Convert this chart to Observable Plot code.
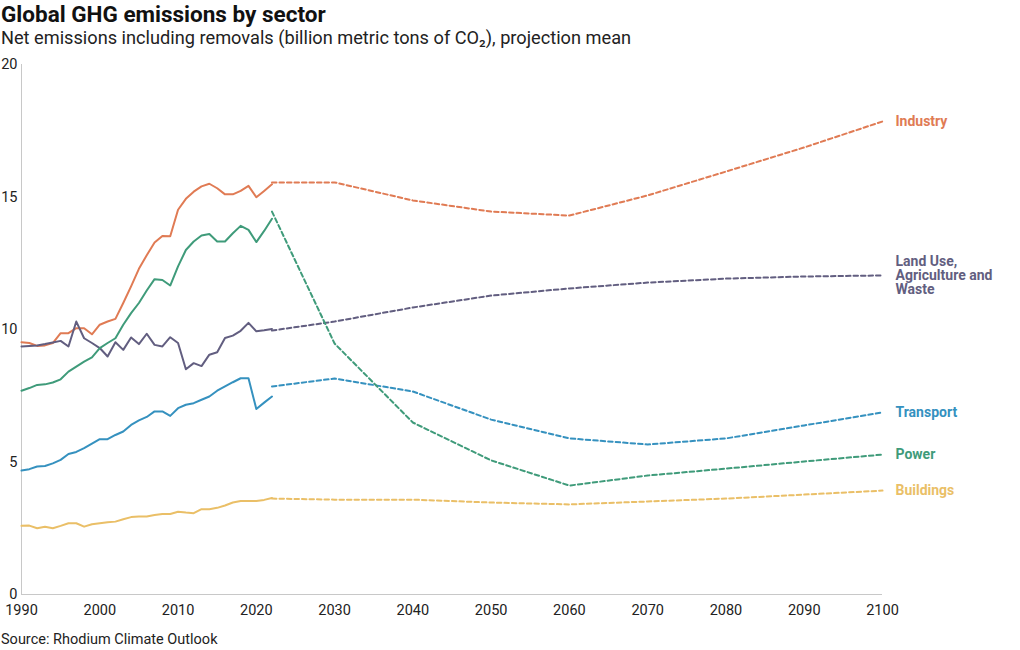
<!DOCTYPE html>
<html>
<head>
<meta charset="utf-8">
<script src="https://cdn.jsdelivr.net/npm/d3@7"></script>
<script src="https://cdn.jsdelivr.net/npm/@observablehq/plot@0.6"></script>
<style>
  body { margin: 0; background: #fff; font-family: Roboto, "Noto Sans", sans-serif; color: #111; }
  #wrap { width: 1020px; }
  .title { font-size: 22.5px; font-weight: 700; line-height: 26px; padding-top: 1px; margin: 0 0 0 1px; color: #111; }
  .subtitle { font-size: 18.2px; line-height: 22px; margin: 0 0 0 1px; color: #222; }
  .caption { font-size: 14.5px; line-height: 20px; margin: 6px 0 0 1px; color: #222; }
</style>
</head>
<body>
<div id="wrap">
  <div class="title">Global GHG emissions by sector</div>
  <div class="subtitle">Net emissions including removals (billion metric tons of CO₂), projection mean</div>
  <div id="chart"></div>
  <div class="caption">Source: Rhodium Climate Outlook</div>
</div>
<script>
const sectors = ["Industry", "Land Use, Agriculture and Waste", "Transport", "Power", "Buildings"];
const sectorLabels = ["Industry", "Land Use,\nAgriculture and\nWaste", "Transport", "Power", "Buildings"];
const sectorColors = ["#e07b54", "#625e80", "#3591bf", "#3f9b7a", "#eabf67"];

const histYears = [1990,1991,1992,1993,1994,1995,1996,1997,1998,1999,
  2000,2001,2002,2003,2004,2005,2006,2007,2008,2009,
  2010,2011,2012,2013,2014,2015,2016,2017,2018,2019,
  2020,2021,2022];

const industryHist = [9.52,9.49,9.38,9.40,9.49,9.86,9.86,10.05,10.05,9.82,
  10.18,10.30,10.40,11.0,11.63,12.29,12.8,13.28,13.53,13.52,
  14.52,14.93,15.2,15.4,15.5,15.33,15.1,15.1,15.23,15.42,
  14.99,15.23,15.48];
const landHist = [9.36,9.38,9.40,9.45,9.51,9.57,9.36,10.3,9.67,9.49,
  9.3,8.98,9.52,9.23,9.7,9.45,9.84,9.42,9.36,9.71,
  9.49,8.5,8.73,8.62,9.05,9.14,9.68,9.77,9.95,10.25,
  9.93,9.97,10.02];
const transportHist = [4.68,4.73,4.83,4.85,4.95,5.08,5.3,5.38,5.52,5.69,
  5.86,5.86,6.02,6.15,6.4,6.57,6.7,6.91,6.91,6.74,
  7.03,7.16,7.22,7.35,7.47,7.69,7.85,8.01,8.16,8.16,
  7.0,7.24,7.47];
const powerHist = [7.69,7.79,7.91,7.93,8.0,8.12,8.41,8.6,8.79,8.95,
  9.3,9.49,9.67,10.18,10.62,11.0,11.47,11.9,11.87,11.66,
  12.38,13.0,13.32,13.55,13.6,13.32,13.32,13.63,13.91,13.76,
  13.3,13.72,14.18];
const buildingsHist = [2.59,2.6,2.5,2.56,2.5,2.59,2.69,2.69,2.56,2.65,
  2.69,2.73,2.75,2.84,2.92,2.94,2.94,3.0,3.04,3.04,
  3.12,3.09,3.07,3.22,3.22,3.27,3.36,3.47,3.53,3.53,
  3.53,3.57,3.64];

const projYears = [2022,2030,2040,2050,2060,2070,2080,2090,2100];
const industryProj = [15.55,15.55,14.87,14.45,14.3,15.06,15.96,16.87,17.85];
const landProj = [9.96,10.3,10.83,11.28,11.55,11.77,11.92,12.0,12.04];
const transportProj = [7.85,8.15,7.66,6.6,5.89,5.66,5.89,6.38,6.87];
const powerProj = [14.45,9.47,6.49,5.06,4.11,4.49,4.75,5.02,5.28];
const buildingsProj = [3.62,3.58,3.58,3.47,3.4,3.51,3.62,3.77,3.92];

const xTicks = [1990,2000,2010,2020,2030,2040,2050,2060,2070,2080,2090,2100];
const yTicks = [0,5,10,15,20];

const histSeries = [industryHist, landHist, transportHist, powerHist, buildingsHist];
const projSeries = [industryProj, landProj, transportProj, powerProj, buildingsProj];

const hist = [];
const proj = [];
const ends = [];
sectors.forEach((s, i) => {
  histYears.forEach((yr, j) => hist.push({sector: s, year: yr, value: histSeries[i][j]}));
  projYears.forEach((yr, j) => proj.push({sector: s, year: yr, value: projSeries[i][j]}));
  ends.push({sector: s, label: sectorLabels[i], year: projYears[projYears.length - 1], value: projSeries[i][projSeries[i].length - 1]});
});

const chart = Plot.plot({
  width: 1020,
  height: 575,
  marginTop: 15,
  marginBottom: 30,
  marginLeft: 21,
  marginRight: 138,
  style: {fontFamily: "Roboto, 'Noto Sans', sans-serif", fontSize: "14.5px", color: "#222", background: "#fff", overflow: "visible"},
  x: {domain: [1990, 2100], ticks: xTicks, tickFormat: d => String(d), tickSize: 0, tickPadding: 10, label: null},
  y: {domain: [0, 20], ticks: yTicks, tickSize: 0, tickPadding: 4, label: null},
  color: {domain: sectors, range: sectorColors},
  marks: [
    Plot.ruleX([1990], {stroke: "#c8c8c8", strokeWidth: 1}),
    Plot.ruleY([0], {stroke: "#c8c8c8", strokeWidth: 1}),
    Plot.line(hist, {x: "year", y: "value", z: "sector", stroke: "sector", strokeWidth: 2}),
    Plot.line(proj, {x: "year", y: "value", z: "sector", stroke: "sector", strokeWidth: 2, strokeDasharray: "4.5,3"}),
    Plot.text(ends, {x: "year", y: "value", text: "label", fill: "sector", dx: 13, textAnchor: "start", fontWeight: 700, fontSize: 14, lineHeight: 0.98})
  ]
});
document.getElementById("chart").appendChild(chart);
</script>
</body>
</html>
